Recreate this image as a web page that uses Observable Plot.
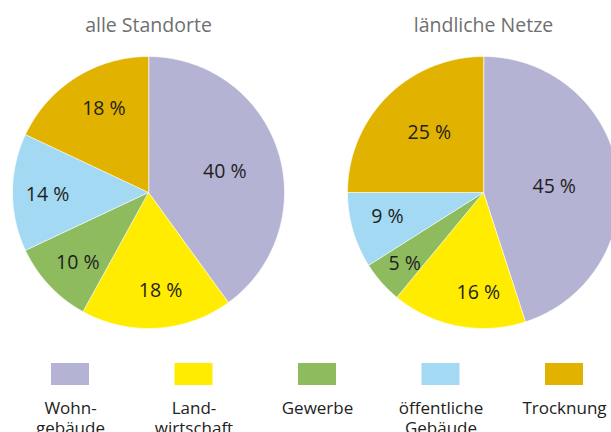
<!DOCTYPE html>
<html>
<head>
<meta charset="utf-8">
<script src="https://cdn.jsdelivr.net/npm/d3@7"></script>
<script src="https://cdn.jsdelivr.net/npm/@observablehq/plot@0.6"></script>
<style>
  html, body { margin: 0; padding: 0; background: #fff; overflow: hidden; }
</style>
</head>
<body>
<div id="chart"></div>
<script>
// ---- data ----
const categories = ["Wohngebäude", "Landwirtschaft", "Gewerbe", "öffentliche Gebäude", "Trocknung"];
const legendLabels = ["Wohn-\ngebäude", "Land-\nwirtschaft", "Gewerbe", "öffentliche\nGebäude", "Trocknung"];
const pieTitles = ["alle Standorte", "ländliche Netze"];
const valuesAlle = [40, 18, 10, 14, 18];
const valuesLaendlich = [45, 16, 5, 9, 25];

// ---- styles / layout ----
const colors = ["#b5b3d3", "#ffec00", "#8fbb5f", "#a3d9f2", "#e2b200"];
const W = 611, H = 440;
const pieCenterX = [148, 483];
const pieCenterY = 192;
const pieRadius = 136;
// label placement (angle in degrees clockwise from top, distance from centre)
const labelAngle = [[75, 173, 225, 269, 332], [85, 183, 228, 256, 318]];
const labelRadius = [[79, 99, 100, 101, 95], [71, 100, 106, 99, 81]];
const legendX0 = 70, legendStep = 123.5;

const pies = [valuesAlle, valuesLaendlich];
const pieGen = d3.pie().sort(null).value(d => d).startAngle(0).endAngle(2 * Math.PI);

const slicePts = [];
const labels = [];
pies.forEach((vals, p) => {
  const cx = pieCenterX[p], cy = pieCenterY;
  pieGen(vals).forEach((a, i) => {
    const key = p + "-" + i;
    slicePts.push({key, cat: categories[i], x: cx, y: cy});
    const n = Math.max(2, Math.ceil((a.endAngle - a.startAngle) / (Math.PI / 180)));
    for (let k = 0; k <= n; k++) {
      const t = a.startAngle + (a.endAngle - a.startAngle) * k / n;
      slicePts.push({key, cat: categories[i], x: cx + pieRadius * Math.sin(t), y: cy - pieRadius * Math.cos(t)});
    }
    const la = labelAngle[p][i] * Math.PI / 180, lr = labelRadius[p][i];
    labels.push({x: cx + lr * Math.sin(la), y: cy - lr * Math.cos(la), text: a.data + " %"});
  });
});

const titles = pieTitles.map((t, p) => ({x: pieCenterX[p], y: 25, text: t}));
const legend = categories.map((c, i) => ({cat: c, label: legendLabels[i], cx: legendX0 + i * legendStep}));

const chart = Plot.plot({
  width: W, height: H,
  margin: 0,
  x: {domain: [0, W], range: [0, W], axis: null},
  y: {domain: [0, H], range: [0, H], axis: null},
  color: {domain: categories, range: colors},
  style: {fontFamily: "'Open Sans', sans-serif", background: "#fff"},
  marks: [
    Plot.line(slicePts, {x: "x", y: "y", z: "key", fill: "cat", stroke: "#ffffff", strokeWidth: 0.6, curve: "linear-closed"}),
    Plot.text(labels, {x: "x", y: "y", text: "text", fontSize: 19.5, fill: "#1e1e1e", textAnchor: "middle", lineAnchor: "middle"}),
    Plot.text(titles, {x: "x", y: "y", text: "text", fontSize: 19.5, fill: "#6f6f6f", textAnchor: "middle", lineAnchor: "middle"}),
    Plot.rect(legend, {x1: d => d.cx - 19, x2: d => d.cx + 19, y1: 363, y2: 385, fill: "cat"}),
    Plot.text(legend, {x: "cx", y: 399, text: "label", fontSize: 17, fill: "#222222", textAnchor: "middle", lineAnchor: "top", lineHeight: 1.18})
  ]
});
document.getElementById("chart").appendChild(chart);
</script>
</body>
</html>
